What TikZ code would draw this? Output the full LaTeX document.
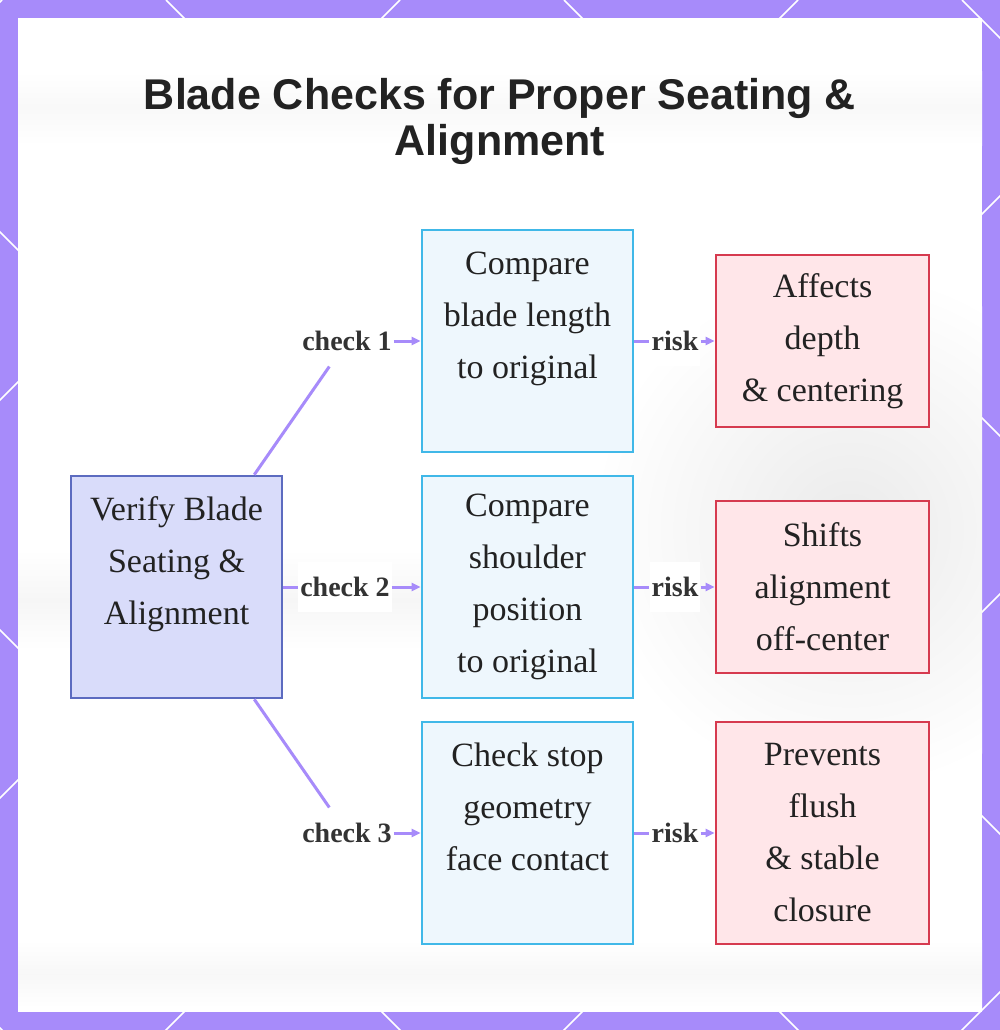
\documentclass[tikz,border=0pt]{standalone}
\usepackage{fontspec}
\setmainfont{Liberation Serif}
\newfontfamily\titlefont{Liberation Sans}
\usetikzlibrary{arrows.meta}
\definecolor{vio}{HTML}{A78BFA}
\definecolor{indB}{HTML}{5C6BC0}
\definecolor{indF}{HTML}{D9DCFA}
\definecolor{bluB}{HTML}{40B8E8}
\definecolor{bluF}{HTML}{EEF7FD}
\definecolor{redB}{HTML}{D63A4F}
\definecolor{redF}{HTML}{FFE6E9}
\definecolor{txt}{HTML}{222222}
\definecolor{lbl}{HTML}{333333}
\begin{document}
\begin{tikzpicture}[x=1pt,y=-1pt,
  boxbase/.style={line width=2.6pt, align=center, inner sep=0pt, text=txt,
    font=\fontsize{34}{52}\selectfont},
  mainbox/.style={boxbase, draw=indB, fill=indF, minimum width=211pt, minimum height=222pt},
  checkbox/.style={boxbase, draw=bluB, fill=bluF, minimum width=211pt, minimum height=222pt},
  riskbox/.style={boxbase, draw=redB, fill=redF, minimum width=213pt, minimum height=#1},
  elabel/.style={font=\bfseries\fontsize{28}{30}\selectfont, text=lbl, fill=white,
    inner xsep=2pt, inner ysep=15.5pt},
  edge/.style={draw=vio, line width=3pt},
  arr/.style={edge, -{Triangle[length=9pt,width=8pt]}},
  lattice/.style={draw=white, line width=1.6pt}]
\useasboundingbox (0,0) rectangle (1000,1030);
% frame
\fill[vio] (0,0) rectangle (1000,1030);
\begin{scope}
  \clip (0,0) rectangle (1000,1030);
  \foreach \a in {-1028,-630,-232,166,564,962}
    \draw[lattice] (\a,0) -- ++(1100,1100);
  \foreach \b in {2,400,798,1196,1594,1992}
    \draw[lattice] (\b,0) -- ++(-1100,1100);
\end{scope}
\fill[white] (18,18) rectangle (982,1012);
% faint blurred background
\begin{scope}
  \clip (18,18) rectangle (982,1012);
  \shade[top color=white, bottom color=white, middle color=gray!5] (18,72) rectangle (982,145);
  \shade[inner color=gray!16, outer color=white] (850,530) circle (260);
  \shade[top color=white, bottom color=white, middle color=gray!7] (18,550) rectangle (430,650);
  \shade[top color=white, bottom color=white, middle color=gray!6] (18,940) rectangle (982,1008);
\end{scope}
% title
\node[font=\titlefont\bfseries\fontsize{43}{46}\selectfont, align=center, text=txt] (title)
  at (500,121) {Blade Checks for Proper Seating \&\\Alignment};
% nodes
\node[mainbox] (v) at (176.5,587) {Verify Blade\\Seating \&\\Alignment\\\mbox{}};
\node[checkbox] (b1) at (527.5,341) {Compare\\blade length\\to original\\\mbox{}};
\node[checkbox] (b2) at (527.5,587) {Compare\\shoulder\\position\\to original};
\node[checkbox] (b3) at (527.5,833) {Check stop\\geometry\\face contact\\\mbox{}};
\node[riskbox=172pt] (r1) at (822.5,341) {Affects\\depth\\\& centering};
\node[riskbox=172pt] (r2) at (822.5,587) {Shifts\\alignment\\off-center};
\node[riskbox=222pt] (r3) at (822.5,833) {Prevents\\flush\\\& stable\\closure};
% labels
\node[elabel] (l1) at (347,341) {check 1};
\node[elabel] (l2) at (345,587) {check 2};
\node[elabel] (l3) at (347,833) {check 3};
\node[elabel] (k1) at (675,341) {risk};
\node[elabel] (k2) at (675,587) {risk};
\node[elabel] (k3) at (675,833) {risk};
% edges
\draw[edge] (v) -- (l1);
\draw[arr] (l1) -- (b1);
\draw[edge] (v) -- (l2);
\draw[arr] (l2) -- (b2);
\draw[edge] (v) -- (l3);
\draw[arr] (l3) -- (b3);
\draw[edge] (b1) -- (k1);
\draw[arr] (k1) -- (r1);
\draw[edge] (b2) -- (k2);
\draw[arr] (k2) -- (r2);
\draw[edge] (b3) -- (k3);
\draw[arr] (k3) -- (r3);
\end{tikzpicture}
\end{document}
